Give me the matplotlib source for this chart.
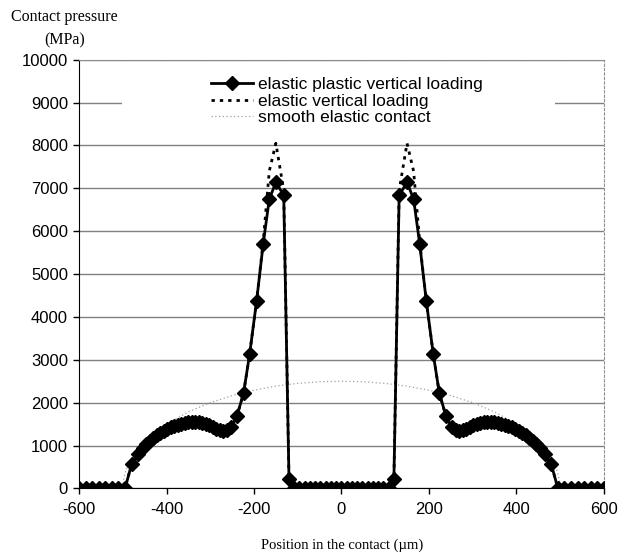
import matplotlib.pyplot as plt
from matplotlib.patches import Rectangle

plt.rcParams['axes.unicode_minus'] = False

# position in the contact (um) and pressures (MPa)
pos = [-600, -585, -570, -555, -540, -525, -510, -495, -480, -465,
       -454, -446, -438, -430, -422, -414, -406, -398, -390, -382,
       -374, -366, -358, -350, -342, -334, -326, -318, -310, -302,
       -294, -286, -278, -270, -262, -252, -239, -224, -210, -194,
       -179, -165, -150, -132, -120, -108, -96, -84, -72, -60,
       -48, -36, -24, -12, 0, 12, 24, 36, 48, 60,
       72, 84, 96, 108, 120, 132, 150, 165, 179, 194,
       210, 224, 239, 252, 262, 270, 278, 286, 294, 302,
       310, 318, 326, 334, 342, 350, 358, 366, 374, 382,
       390, 398, 406, 414, 422, 430, 438, 446, 454, 465,
       480, 495, 510, 525, 540, 555, 570, 585, 600]

ep_load = [0, 0, 0, 0, 0, 0, 0, 0, 560, 800,
           940, 1030, 1110, 1180, 1240, 1290, 1335, 1380, 1422, 1458,
           1488, 1512, 1530, 1542, 1548, 1547, 1538, 1522, 1500, 1470,
           1430, 1390, 1355, 1345, 1370, 1435, 1690, 2215, 3130, 4375,
           5700, 6750, 7135, 6840, 230, 0, 0, 0, 0, 0,
           0, 0, 0, 0, 0, 0, 0, 0, 0, 0,
           0, 0, 0, 0, 230, 6840, 7135, 6750, 5700, 4375,
           3130, 2215, 1690, 1435, 1370, 1345, 1355, 1390, 1430, 1470,
           1500, 1522, 1538, 1547, 1548, 1542, 1530, 1512, 1488, 1458,
           1422, 1380, 1335, 1290, 1240, 1180, 1110, 1030, 940, 800,
           560, 0, 0, 0, 0, 0, 0, 0, 0]

el_load = [0, 0, 0, 0, 0, 0, 0, 0, 560, 800,
           940, 1030, 1110, 1180, 1240, 1290, 1335, 1380, 1422, 1458,
           1488, 1512, 1530, 1542, 1548, 1547, 1538, 1522, 1500, 1470,
           1430, 1390, 1355, 1345, 1370, 1435, 1690, 2215, 3130, 4375,
           5750, 7400, 8050, 6950, 230, 0, 0, 0, 0, 0,
           0, 0, 0, 0, 0, 0, 0, 0, 0, 0,
           0, 0, 0, 0, 230, 6950, 8050, 7400, 5750, 4375,
           3130, 2215, 1690, 1435, 1370, 1345, 1355, 1390, 1430, 1470,
           1500, 1522, 1538, 1547, 1548, 1542, 1530, 1512, 1488, 1458,
           1422, 1380, 1335, 1290, 1240, 1180, 1110, 1030, 940, 800,
           560, 0, 0, 0, 0, 0, 0, 0, 0]

smooth_pos = [-600, -500, -499, -495, -490, -475, -450, -425, -400, -350, -300,
              -250, -200, -150, -100, -50, 0, 50, 100, 150, 200,
              250, 300, 350, 400, 425, 450, 475, 490, 495, 499, 500, 600]
smooth = [0, 0, 160, 350, 500, 780, 1090, 1320, 1500, 1785, 2000,
          2165, 2290, 2385, 2450, 2487, 2500, 2487, 2450, 2385, 2290,
          2165, 2000, 1785, 1500, 1320, 1090, 780, 500, 350, 160, 0, 0]

fig = plt.figure(figsize=(6.18, 5.59), dpi=100)
ax = fig.add_axes([0.128, 0.1263, 0.849, 0.767])

ax.plot(smooth_pos, smooth, color='#a0a0a0', lw=0.9, ls=(0, (1, 2)),
        label='smooth elastic contact', zorder=2)
ax.plot(pos, el_load, color='black', lw=2, ls=(0, (1.2, 1.8)),
        label='elastic vertical loading', zorder=3)
ax.plot(pos, ep_load, color='black', lw=2, marker='D', markersize=6.8,
        label='elastic plastic vertical loading', zorder=4)

ax.set_xlim(-600, 600)
ax.set_ylim(0, 10000)
ax.set_xticks(range(-600, 601, 200))
ax.set_yticks(range(0, 10001, 1000))
ax.yaxis.grid(True, color='#808080', lw=1)
ax.set_axisbelow(True)

for s in ['top', 'right']:
    ax.spines[s].set_color('#909090')
    ax.spines[s].set_linestyle((0, (2, 2)))
    ax.spines[s].set_linewidth(0.8)
ax.spines['left'].set_color('black')
ax.spines['bottom'].set_color('black')
ax.tick_params(direction='out', length=4, width=1, labelsize=12)
ax.tick_params(axis='x', pad=6)
ax.tick_params(axis='y', pad=4)
for lbl in ax.get_xticklabels() + ax.get_yticklabels():
    lbl.set_family('Liberation Sans')

# white box behind the legend hides the gridline
ax.add_patch(Rectangle((0.081, 0.84), 0.826, 0.137, transform=ax.transAxes,
                       facecolor='white', edgecolor='none', zorder=1))

h, l = ax.get_legend_handles_labels()
leg = ax.legend(h[::-1], l[::-1], loc='upper left', bbox_to_anchor=(0.235, 0.98),
                frameon=False, handlelength=2.4, handletextpad=0.3,
                labelspacing=0.08, borderpad=0,
                prop={'family': 'Liberation Sans', 'size': 12.5})

fig.text(0.104, 0.948, 'Contact pressure\n(MPa)', ha='center', va='center',
         family='Liberation Serif', fontsize=11.5, linespacing=1.6)
fig.text(0.553, 0.025, 'Position in the contact (\u00b5m)', ha='center',
         va='center', family='Liberation Serif', fontsize=10.5)

fig.savefig('out.png', dpi=100)
